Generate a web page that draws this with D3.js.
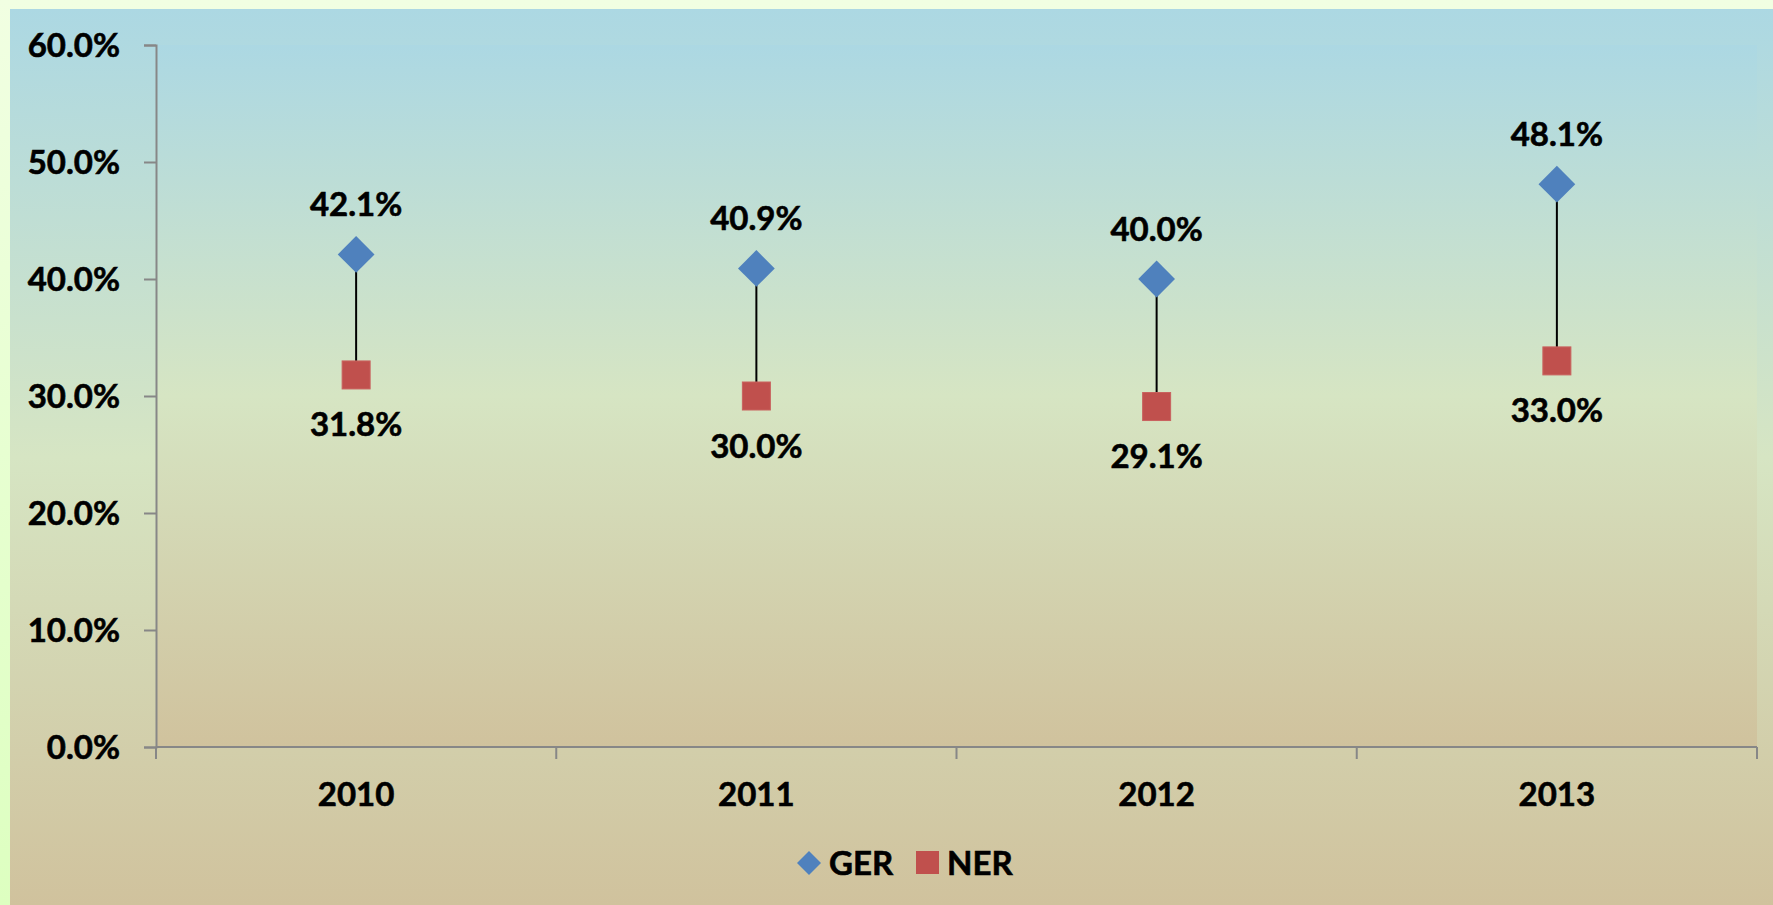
<!DOCTYPE html>
<html>
<head>
<meta charset="utf-8">
<script src="https://cdn.jsdelivr.net/npm/d3@7"></script>
<style>
  html, body { margin: 0; padding: 0; background: #f0ffe0; }
  svg { display: block; }
  text { font-family: Lato, "Open Sans", sans-serif; font-weight: bold; fill: #000; stroke: #000; stroke-width: 0.6px; }
</style>
</head>
<body>
<script>
// valeurs
const years = ["2010", "2011", "2012", "2013"];
const ger = [0.421, 0.409, 0.400, 0.481];
const ner = [0.318, 0.300, 0.291, 0.330];
const yTicks = [0, 0.1, 0.2, 0.3, 0.4, 0.5, 0.6];
const seriesNames = ["GER", "NER"];

const W = 1773, H = 905;
const fs = 33;

const svg = d3.select("body").append("svg")
  .attr("width", W)
  .attr("height", H);

const defs = svg.append("defs");

const outer = defs.append("linearGradient").attr("id", "outer")
  .attr("x1", 0).attr("y1", 0).attr("x2", 0).attr("y2", 1);
outer.append("stop").attr("offset", "0%").attr("stop-color", "#f1ffe2");
outer.append("stop").attr("offset", "100%").attr("stop-color", "#ddffc0");

function bgGrad(id) {
  const g = defs.append("linearGradient").attr("id", id)
    .attr("x1", 0).attr("y1", 0).attr("x2", 0).attr("y2", 1);
  g.append("stop").attr("offset", "0%").attr("stop-color", "#acd8e3");
  g.append("stop").attr("offset", "50%").attr("stop-color", "#d6e5c3");
  g.append("stop").attr("offset", "100%").attr("stop-color", "#d0c29d");
}
bgGrad("chartBg");
bgGrad("plotBg");

svg.append("rect").attr("width", W).attr("height", H).attr("fill", "url(#outer)");
svg.append("rect").attr("x", 10).attr("y", 9).attr("width", W - 10).attr("height", H - 9)
  .attr("fill", "url(#chartBg)");

const plot = { left: 156, top: 45, right: 1757, bottom: 747 };

svg.append("rect")
  .attr("x", plot.left).attr("y", plot.top)
  .attr("width", plot.right - plot.left).attr("height", plot.bottom - plot.top)
  .attr("fill", "url(#plotBg)");

const x = d3.scaleBand().domain(years).range([plot.left, plot.right]);
const y = d3.scaleLinear().domain([0, 0.6]).range([plot.bottom, plot.top]);

// axe Y
const yAxis = svg.append("g")
  .attr("transform", `translate(${plot.left},0)`)
  .call(d3.axisLeft(y).tickValues(yTicks).tickFormat(d3.format(".1%")).tickSizeOuter(0).tickSize(12).tickPadding(24));
yAxis.select(".domain").attr("stroke", "#878787").attr("stroke-width", 2);
yAxis.selectAll(".tick line").attr("stroke", "#878787").attr("stroke-width", 2);
yAxis.selectAll(".tick text").style("font-size", fs + "px").attr("dy", "0.35em")
  .attr("font-family", null);

// axe X
const xAxis = svg.append("g")
  .attr("transform", `translate(0,${plot.bottom})`)
  .call(d3.axisBottom(x).tickSize(0).tickPadding(47));
xAxis.select(".domain").attr("stroke", "#878787").attr("stroke-width", 2)
  .attr("d", `M${plot.left},0H${plot.right}`);
xAxis.selectAll(".tick text").style("font-size", fs + "px").attr("dy", "0.35em")
  .attr("font-family", null);

const bounds = years.map(d => x(d)).concat([plot.right]);
svg.append("g").selectAll("line").data(bounds).join("line")
  .attr("x1", d => d).attr("x2", d => d)
  .attr("y1", plot.bottom).attr("y2", plot.bottom + 12)
  .attr("stroke", "#878787").attr("stroke-width", 2);

const cx = d => x(d) + x.bandwidth() / 2;
const pts = years.map((d, i) => ({ year: d, g: ger[i], n: ner[i] }));

// lignes haut-bas
svg.append("g").selectAll("line").data(pts).join("line")
  .attr("x1", d => cx(d.year)).attr("x2", d => cx(d.year))
  .attr("y1", d => y(d.g)).attr("y2", d => y(d.n))
  .attr("stroke", "#000").attr("stroke-width", 2);

const diamond = d3.symbol().type(d3.symbolSquare).size(26 * 26);

svg.append("g").selectAll("path").data(pts).join("path")
  .attr("d", diamond)
  .attr("transform", d => `translate(${cx(d.year)},${y(d.g)}) rotate(45)`)
  .attr("fill", "#4f81bd");

svg.append("g").selectAll("rect").data(pts).join("rect")
  .attr("x", d => cx(d.year) - 14).attr("y", d => y(d.n) - 14)
  .attr("width", 28).attr("height", 28)
  .attr("fill", "#c0504d").attr("stroke", "#c9625f").attr("stroke-width", 1);

const fmt = d3.format(".1%");
svg.append("g").selectAll("text").data(pts).join("text")
  .attr("x", d => cx(d.year)).attr("y", d => y(d.g) - 50)
  .attr("text-anchor", "middle").attr("dy", "0.35em")
  .style("font-size", fs + "px")
  .text(d => fmt(d.g));

svg.append("g").selectAll("text").data(pts).join("text")
  .attr("x", d => cx(d.year)).attr("y", d => y(d.n) + 50)
  .attr("text-anchor", "middle").attr("dy", "0.35em")
  .style("font-size", fs + "px")
  .text(d => fmt(d.n));

// légende
const legend = svg.append("g").attr("transform", "translate(0,863)");
legend.append("path")
  .attr("d", d3.symbol().type(d3.symbolSquare).size(17 * 17))
  .attr("transform", "translate(809,0) rotate(45)")
  .attr("fill", "#4f81bd");
legend.append("text").attr("x", 829).attr("dy", "0.35em").style("font-size", fs + "px").text(seriesNames[0]);
legend.append("rect").attr("x", 916).attr("y", -12).attr("width", 23).attr("height", 23)
  .attr("fill", "#c0504d");
legend.append("text").attr("x", 947).attr("dy", "0.35em").style("font-size", fs + "px").text(seriesNames[1]);
</script>
</body>
</html>
